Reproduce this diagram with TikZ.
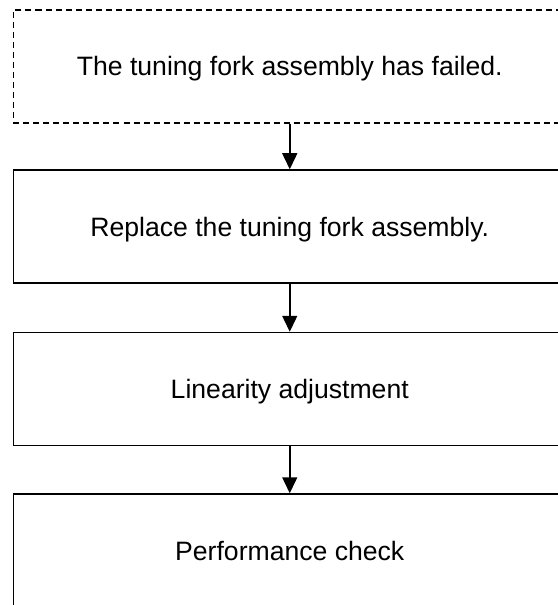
\documentclass[tikz,border=0pt]{standalone}
\usepackage{fontspec}
\setmainfont{Liberation Sans}
\usetikzlibrary{arrows.meta}
\begin{document}
\begin{tikzpicture}[x=1bp,y=-1bp,
  boxbase/.style={draw=black, line width=1.5bp, rectangle, minimum width=552.5bp, minimum height=113bp,
    inner sep=0pt, text height=19bp, text depth=0pt, font=\fontsize{26.6bp}{32bp}\selectfont},
  solidbox/.style={boxbase},
  dashbox/.style={boxbase, dash pattern=on 6bp off 4bp},
  arr/.style={line width=1.5bp, -{Triangle[width=15bp,length=16bp]}, shorten >=0pt}]
\useasboundingbox (0,0) rectangle (558,605);
\clip (0,0) rectangle (558,605);
\node[dashbox]  (b1) at (289.75,66.5)  {The tuning fork assembly has failed.};
\node[solidbox] (b2) at (289.75,226.5) {Replace the tuning fork assembly.};
\node[solidbox] (b3) at (289.75,389)   {Linearity adjustment};
\node[solidbox] (b4) at (289.75,550.5) {Performance check};
\draw[arr] (b1.south) -- (b2.north);
\draw[arr] (b2.south) -- (b3.north);
\draw[arr] (b3.south) -- (b4.north);
\end{tikzpicture}
\end{document}
